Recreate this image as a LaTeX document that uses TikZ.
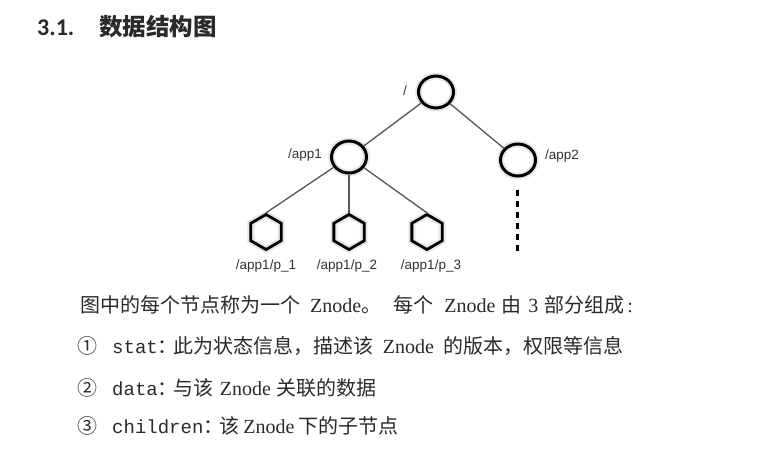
\documentclass[tikz,border=0pt]{standalone}
\usepackage{fontspec}
\usetikzlibrary{shapes.geometric}
\setmainfont{Liberation Sans}
\newfontfamily\cjk{Noto Sans CJK SC}
\newfontfamily\titlefont{Carlito}
\newfontfamily\latmono{Liberation Mono}
\newfontfamily\latserif{Liberation Serif}
\newcommand\mono[1]{{\fontsize{19}{19}\selectfont\latmono #1}}
\newcommand\ser[1]{{\fontsize{20}{20}\selectfont\latserif #1}}
\newcommand\zn{\ser{Znode}}
\newcommand\circnum[1]{\makebox[35pt][l]{\fontsize{20}{20}\selectfont\cjk #1}}
\newcommand\fwcolon{\makebox[16pt][l]{：}}
\definecolor{edgegray}{HTML}{555555}
\definecolor{txt}{HTML}{2A2A2A}
\tikzset{
  znode/.style={ellipse, draw=black, line width=3pt, minimum width=35pt, minimum height=32pt, inner sep=0pt,
    preaction={draw=black!9, line width=7pt}},
  leafnode/.style={regular polygon, regular polygon sides=6, shape border rotate=30, draw=black, line width=2.8pt,
    minimum size=35pt, inner sep=0pt, preaction={draw=black!9, line width=7pt}},
  edge/.style={draw=edgegray, line width=1.3pt},
  treelabel/.style={font=\fontsize{13.5}{13.5}\selectfont, text=black!80, inner sep=0pt},
  bodyline/.style={anchor=base west, inner sep=0pt, font=\fontsize{20}{20}\selectfont\cjk, text=txt},
}
\begin{document}
\begin{tikzpicture}[x=1pt,y=-1pt]
\useasboundingbox[fill=white] (0,0) rectangle (775,459);
% title
\node[anchor=base west, inner sep=0pt, font=\fontsize{24}{24}\selectfont\titlefont\bfseries, text=txt] (tnum) at (37,35) {3.1.};
\node[anchor=base west, inner sep=0pt, font=\fontsize{23.5}{23.5}\selectfont\cjk\bfseries, text=txt] (ttext) at (99,35) {数据结构图};
% tree
\node[znode] (root) at (436,92) {};
\node[znode] (app1) at (349,157) {};
\node[znode] (app2) at (518,160) {};
\node[leafnode] (p1) at (266,232) {};
\node[leafnode] (p2) at (349,232) {};
\node[leafnode] (p3) at (427,232) {};
\draw[edge] (root) -- (app1);
\draw[edge] (root) -- (app2);
\draw[edge] (app1) -- (p1.north);
\draw[edge] (app1.south) -- (p2.north);
\draw[edge] (app1) -- (p3.north);
\coordinate (dtop) at (517.5,190);
\coordinate (dbot) at (517.5,253);
\draw[line width=3.6pt, dash pattern=on 5.5pt off 5.5pt] (dtop) -- (dbot);
% labels
\node[treelabel] (lroot) at (405,91) {/};
\node[treelabel] (lapp1) at (305,155) {/app1};
\node[treelabel] (lapp2) at (562,156) {/app2};
\node[treelabel] (lp1) at (266,266) {/app1/p\_1};
\node[treelabel] (lp2) at (347,266) {/app1/p\_2};
\node[treelabel] (lp3) at (431,266) {/app1/p\_3};
% body text
\node[bodyline] (b1) at (80,312) {图中的每个节点称为一个\hspace{10pt}\zn。\hspace{12pt}每个\hspace{11pt}\zn\hspace{6pt}由\hspace{7pt}\ser{3}\hspace{6pt}部分组成\hspace{3pt}\ser{:}};
\node[bodyline] (b2) at (77,353) {\circnum{①}\mono{stat}\fwcolon 此为状态信息，描述该\hspace{9pt}\zn\hspace{10pt}的版本，权限等信息};
\node[bodyline] (b3) at (77,395) {\circnum{②}\mono{data}\fwcolon 与该\hspace{6pt}\zn\hspace{6pt}关联的数据};
\node[bodyline] (b4) at (77,433) {\circnum{③}\mono{children}\fwcolon 该\hspace{4pt}\zn\hspace{4pt}下的子节点};
\end{tikzpicture}
\end{document}
